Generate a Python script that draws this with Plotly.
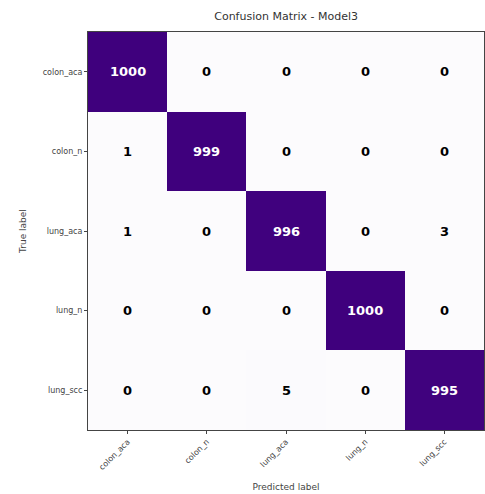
import plotly.graph_objects as go

classes = ["colon_aca", "colon_n", "lung_aca", "lung_n", "lung_scc"]
matrix = [
    [1000, 0, 0, 0, 0],
    [1, 999, 0, 0, 0],
    [1, 0, 996, 0, 3],
    [0, 0, 0, 1000, 0],
    [0, 0, 5, 0, 995],
]
title_text = "Confusion Matrix - Model3"

zmax = 1000
thresh = zmax / 2

fig = go.Figure(go.Heatmap(
    z=matrix, x=classes, y=classes,
    colorscale="Purples", zmin=0, zmax=zmax, showscale=False,
    xgap=0, ygap=0,
))

ann = []
for i, row in enumerate(matrix):
    for j, v in enumerate(row):
        ann.append(dict(
            x=classes[j], y=classes[i], text=f"<b>{v}</b>", showarrow=False,
            font=dict(family="DejaVu Sans", size=13,
                      color="white" if v > thresh else "black"),
        ))

fig.update_layout(
    width=485, height=494,
    margin=dict(l=88, r=1, t=32, b=64),
    paper_bgcolor="white", plot_bgcolor="white",
    annotations=ann,
    title=dict(text=title_text, x=0.59, xanchor="center", y=0.968, yanchor="middle",
               font=dict(family="DejaVu Sans", size=11, color="#333")),
    font=dict(family="DejaVu Sans", color="#444"),
)
fig.update_xaxes(
    title=dict(text="Predicted label", font=dict(size=9), standoff=12),
    tickangle=-45, tickfont=dict(size=8), ticks="outside", ticklen=3,
    showline=True, mirror=True, linecolor="#444", linewidth=1,
    showgrid=False, zeroline=False,
)
fig.update_yaxes(
    title=dict(text="True label", font=dict(size=9), standoff=14),
    autorange="reversed", tickfont=dict(size=8), ticks="outside", ticklen=3,
    showline=True, mirror=True, linecolor="#444", linewidth=1,
    showgrid=False, zeroline=False,
)

fig.write_html("out.html")
